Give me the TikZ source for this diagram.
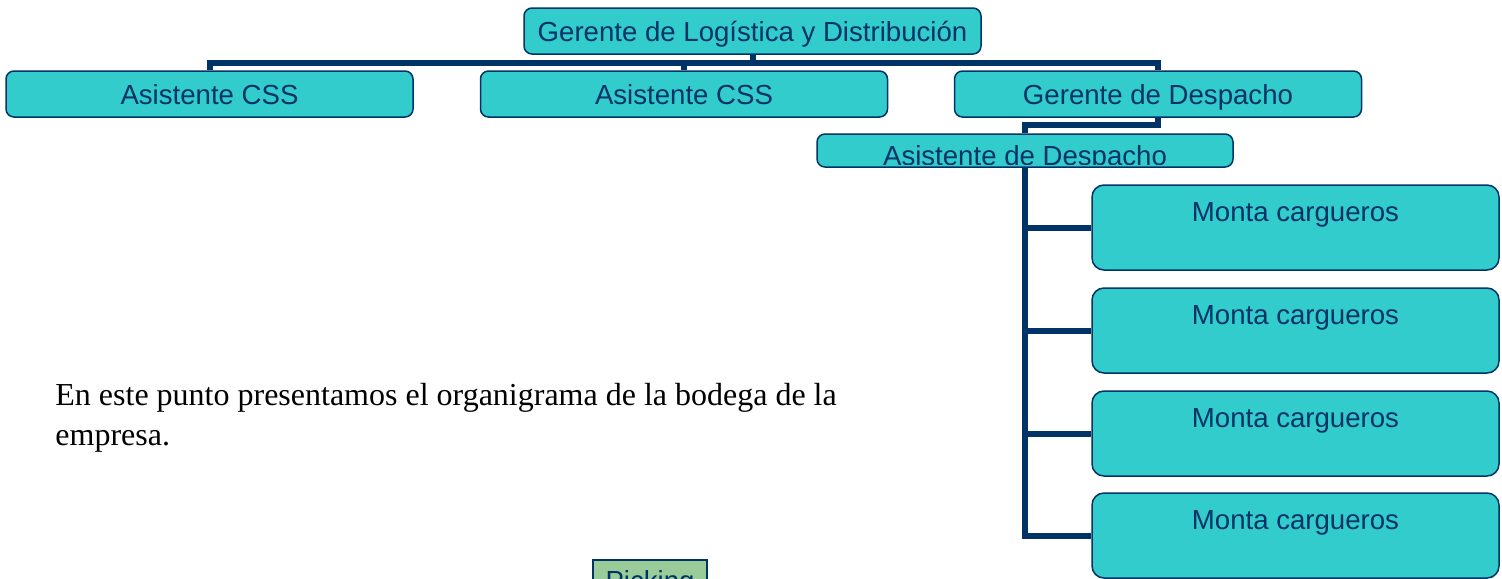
\documentclass[tikz,border=0pt]{standalone}
\usepackage{fontspec}
\setmainfont{Liberation Serif}
\newfontfamily\orgfont{Liberation Sans}
\definecolor{turq}{HTML}{33CCCC}
\definecolor{navy}{HTML}{003366}
\definecolor{pickgreen}{HTML}{99CC99}
\tikzset{
  orgbox/.style={draw=navy, fill=turq, line width=0.75pt, rounded corners=4pt,
    inner sep=0pt, text=navy, text height=10pt, text depth=0pt,
    font=\orgfont\fontsize{13.8}{16}\selectfont},
  link/.style={draw=navy, line width=3pt},
}
\begin{document}
\begin{tikzpicture}[x=0.5pt,y=-0.5pt]
\clip (0,0) rectangle (1502,578);
\fill[white] (0,0) rectangle (1502,578);
% jefatura
\node[orgbox, minimum width=228.5pt, minimum height=23pt] (gld) at (752.5,31) {Gerente de Logística y Distribución};
\node[orgbox, minimum width=203.5pt, minimum height=23pt] (css1) at (209.5,94) {Asistente CSS};
\node[orgbox, minimum width=203.5pt, minimum height=23pt] (css2) at (684,94) {Asistente CSS};
\node[orgbox, minimum width=203.5pt, minimum height=23pt] (gd) at (1158,94) {Gerente de Despacho};
\coordinate (bar) at (0,63);
\draw[link] (gld.south) -- (gld.south |- bar);
\draw[link] (css1.north) |- (bar -| gd.north) -- (gd.north);
\draw[link] (css2.north) -- (css2.north |- bar);
% despacho
\node[orgbox, minimum width=208pt, minimum height=16.5pt] (desp) at (1025,150.5) {};
\begin{scope}
\clip (desp.north west) rectangle ([yshift=1.6pt]desp.south east);
\node[orgbox, draw=none, fill=none, anchor=north, text height=15.5pt, text depth=1pt] (desptxt) at (desp.north) {Asistente de Despacho};
\end{scope}
\draw[link] (gd.south) -- ++(0,-3.5pt) -| (desp.north);
\foreach \i/\y in {1/227.5,2/330.5,3/433.5,4/535.5} {
  \node[orgbox, rounded corners=6pt, minimum width=203.5pt, text height=18pt, text depth=24.5pt] (m\i) at (1295.5,\y) {Monta cargueros};
}
\draw[link] (desp.south) |- (m4.west);
\foreach \i in {1,2,3} {
  \draw[link] (desp.south |- m\i.west) -- (m\i.west);
}
% texto
\node[anchor=base west, align=left, inner sep=0pt, font=\fontsize{16}{20}\selectfont] (intro) at (55,445)
  {En este punto presentamos el organigrama de la bodega de la\\empresa.};
\node[orgbox, fill=pickgreen, rounded corners=0pt, anchor=north, minimum width=57pt, text height=15.5pt, text depth=8pt] (pick) at (650,559) {Picking};
\end{tikzpicture}
\end{document}
